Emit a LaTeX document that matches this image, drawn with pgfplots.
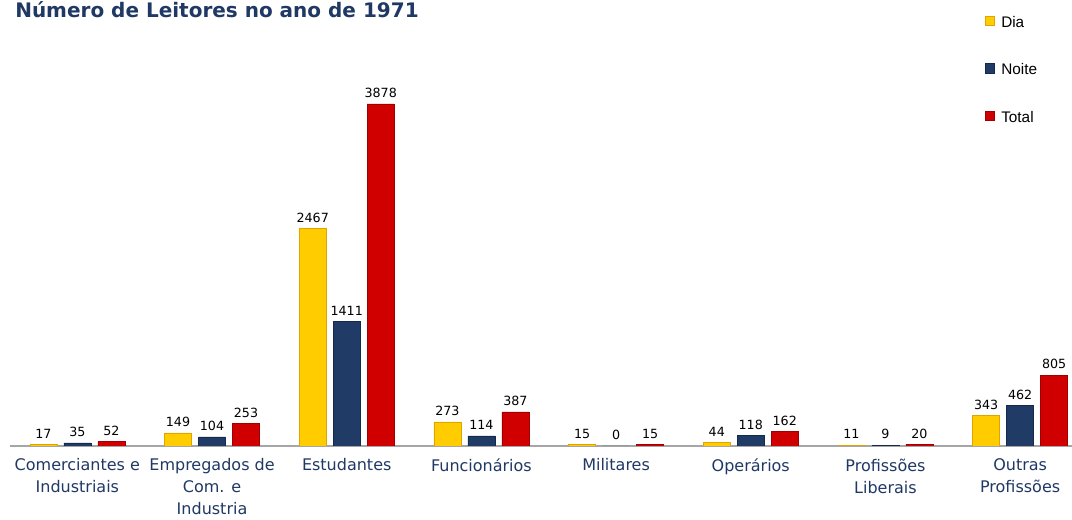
\documentclass[border=0pt]{standalone}
\usepackage{pgfplots}
\pgfplotsset{compat=1.18}
\usepackage{fontspec}
\setmainfont{DejaVu Sans}
\newfontfamily\legfont{Liberation Sans}

\definecolor{lab}{HTML}{1F3864}
\definecolor{dia}{HTML}{FFCC00}
\definecolor{diaD}{HTML}{E0A400}
\definecolor{noite}{HTML}{1F3B66}
\definecolor{noiteD}{HTML}{15294D}
\definecolor{total}{HTML}{D00000}
\definecolor{totalD}{HTML}{A00000}

\begin{document}
\begin{tikzpicture}
  \path[use as bounding box] (0,0) rectangle (804pt,390pt);
  \node[anchor=base west, inner sep=0, text=lab,
        font=\bfseries\fontsize{15}{18}\selectfont]
    at (11.25pt,377pt) {Número de Leitores no ano de 1971};
  \begin{axis}[
      at={(7.5pt,55.5pt)}, anchor=south west,
      scale only axis,
      width=797pt, height=277.8pt,
      ybar=5.25pt,
      bar width=20.25pt,
      xmin=-0.5, xmax=7.39,
      ymin=0, ymax=4200,
      hide y axis,
      axis x line*=bottom,
      x axis line style={draw=black!35, line width=0.8pt, -},
      xtick={0,...,7},
      major tick length=0pt,
      xticklabels={{Comerciantes e\\Industriais},{Empregados de\\Com. e\\Industria},Estudantes,Funcionários,Militares,Operários,{Profissões\\Liberais},{Outras\\Profissões}},
      xticklabel style={align=center, text=lab, font=\fontsize{12}{16.5}\selectfont, yshift=-6pt},
      nodes near coords,
      nodes near coords style={/pgf/number format/1000 sep={}, /pgf/number format/assume math mode=true},
      every node near coord/.append style={text=black, font=\fontsize{9.5}{11}\selectfont, yshift=1pt},
      legend style={at={(0.917,1.169)}, anchor=north west, draw=none, fill=none,
        inner sep=0pt, row sep=22pt, font=\legfont\fontsize{11.5}{13}\selectfont,
        /tikz/every odd column/.append style={column sep=3pt}},
      legend cell align=left,
      legend image code/.code={\draw[#1] (0pt,-2pt) rectangle (7pt,5pt);},
    ]
    % Dia
    \addplot[draw=diaD, line width=0.4pt, fill=dia] coordinates {
      (0,17) (1,149) (2,2467) (3,273) (4,15) (5,44) (6,11) (7,343)
    };
    % Noite
    \addplot[draw=noiteD, line width=0.4pt, fill=noite] coordinates {
      (0,35) (1,104) (2,1411) (3,114) (4,0) (5,118) (6,9) (7,462)
    };
    % Total
    \addplot[draw=totalD, line width=0.4pt, fill=total] coordinates {
      (0,52) (1,253) (2,3878) (3,387) (4,15) (5,162) (6,20) (7,805)
    };
    \legend{Dia, Noite, Total}
  \end{axis}
\end{tikzpicture}
\end{document}
